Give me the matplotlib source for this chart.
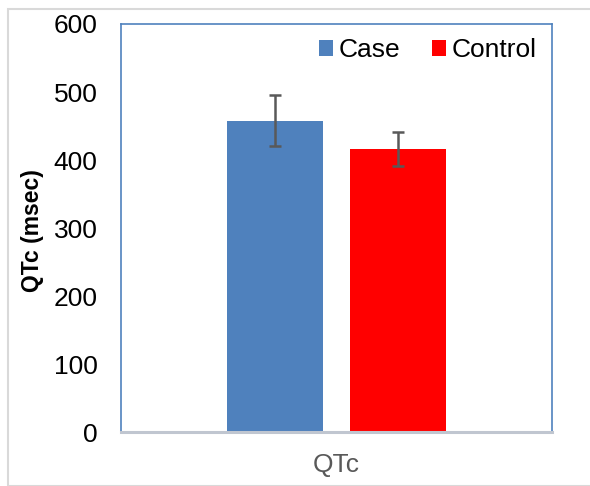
import matplotlib
matplotlib.use("Agg")
import matplotlib.pyplot as plt
from matplotlib.patches import Patch, Rectangle

categories = ["QTc"]
series = ["Case", "Control"]
values = [458, 416]
errors = [37, 25]
colors = ["#4F81BD", "#FF0000"]
yticks = [0, 100, 200, 300, 400, 500, 600]

plt.rcParams["font.family"] = ["Liberation Sans", "DejaVu Sans"]

W, H = 590, 486
fig = plt.figure(figsize=(W / 100, H / 100), dpi=100)

# outer chart border
fig.patches.append(Rectangle((8 / W, 0), 1.0, 1 - 9 / H, transform=fig.transFigure,
                             fill=False, edgecolor="#D9D9D9", linewidth=1.5, zorder=0))

ax = fig.add_axes([121 / W, (H - 432) / H, (552 - 121) / W, (432 - 24) / H])

offsets = [-0.1427, 0.1427]
width = 0.225
for i, s in enumerate(series):
    ax.bar(0 + offsets[i], values[i], width=width, color=colors[i], label=s, zorder=2)
    ax.errorbar(0 + offsets[i], values[i], yerr=errors[i], fmt="none",
                ecolor="#595959", elinewidth=1.8, capsize=4.5, capthick=1.8, zorder=3)

ax.set_xlim(-0.5, 0.5)
ax.set_ylim(0, 600)
ax.set_yticks(yticks)
ax.set_yticklabels([str(t) for t in yticks], fontsize=19, color="black")
ax.set_xticks([0])
ax.set_xticklabels(categories, fontsize=19, color="#595959")
ax.tick_params(axis="y", length=0, pad=17)
ax.tick_params(axis="x", length=0, pad=15)

for side in ["left", "top", "right"]:
    ax.spines[side].set_color("#4F81BD")
    ax.spines[side].set_linewidth(1.2)
ax.spines["bottom"].set_color("#C0C6D0")
ax.spines["bottom"].set_linewidth(2.2)
ax.spines["bottom"].set_zorder(4)

fig.text(32.5 / W, (H - 231) / H, "QTc (msec)", rotation=90, ha="center", va="center",
         fontsize=16.5, fontweight="bold")

handles = [Patch(facecolor=c, edgecolor="none") for c in colors]
leg = ax.legend(handles, series, loc="upper right", ncol=2, frameon=False, fontsize=19,
                handlelength=0.55, handleheight=0.55, handletextpad=0.2,
                columnspacing=1.2, bbox_to_anchor=(1.007, 1.01), borderaxespad=0.3)

fig.savefig("out.png", dpi=100)
